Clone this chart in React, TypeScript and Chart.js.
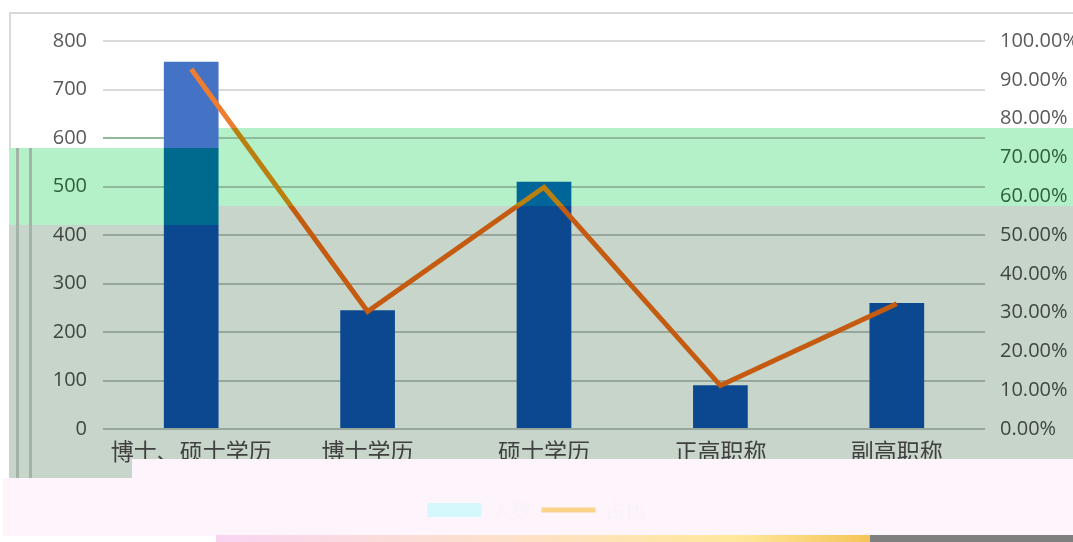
import React, { useEffect, useRef } from 'react';
import { Chart, registerables } from 'chart.js';

Chart.register(...registerables);

// ---- data ----
const categories = ['博士、硕士学历', '博士学历', '硕士学历', '正高职称', '副高职称'];
const counts = [757, 245, 510, 90, 260];
const ratios = [0.928, 0.303, 0.623, 0.112, 0.323];
const seriesNames = ['人数', '占比'];
const leftMax = 800;
const leftStep = 100;
const rightMax = 1;
const rightStep = 0.1;

// ---- style ----
const W = 1073;
const H = 542;
const NUM_FONT = { family: '"Open Sans", "Noto Sans", sans-serif', size: 20 };
const CJK_FONT = { family: '"Noto Sans CJK SC", sans-serif', size: 23 };

function bandGradient(ctx: CanvasRenderingContext2D, top: number, bottom: number, c1: string, c2: string, c3: string) {
  const g = ctx.createLinearGradient(0, 0, 0, H);
  const a = top / H;
  const b = bottom / H;
  g.addColorStop(0, c1);
  g.addColorStop(a, c1);
  g.addColorStop(a, c2);
  g.addColorStop(b, c2);
  g.addColorStop(b, c3);
  g.addColorStop(1, c3);
  return g;
}

const abs = (l: number, t: number, w: number, h: number, bg: string, z = 0): React.CSSProperties => ({
  position: 'absolute', left: l, top: t, width: w, height: h, background: bg, zIndex: z,
});

export default function App() {
  const ref = useRef<HTMLCanvasElement | null>(null);

  useEffect(() => {
    if (!ref.current) return;
    const chart = new Chart(ref.current, {
      type: 'bar',
      data: {
        labels: categories,
        datasets: [
          {
            type: 'line',
            label: seriesNames[1],
            data: ratios,
            yAxisID: 'y1',
            order: 0,
            borderWidth: 5,
            pointRadius: 0,
            tension: 0,
            borderColor: (c: any) => bandGradient(c.chart.ctx, 128, 206, '#ED7D31', '#B9800F', '#C45B10'),
            backgroundColor: '#C45B10',
          } as any,
          {
            type: 'bar',
            label: seriesNames[0],
            data: counts,
            yAxisID: 'y',
            order: 1,
            categoryPercentage: 1,
            barPercentage: 0.31,
            backgroundColor: (c: any) => {
              if (c.dataIndex === undefined || !c.chart.scales?.x) return '#0B488F';
              const px = c.chart.scales.x.getPixelForValue(c.dataIndex);
              return px < 218
                ? bandGradient(c.chart.ctx, 148, 225, '#4472C4', '#006A8E', '#0B488F')
                : bandGradient(c.chart.ctx, 128, 206, '#4472C4', '#00669A', '#0B488F');
            },
          } as any,
        ],
      },
      options: {
        animation: false,
        responsive: false,
        layout: { padding: { top: 41, bottom: 12, left: 0, right: 0 } },
        plugins: {
          tooltip: { enabled: false },
          legend: {
            position: 'bottom',
            labels: {
              usePointStyle: true,
              pointStyleWidth: 54,
              boxWidth: 54,
              boxHeight: 14,
              padding: 10,
              font: { family: '"Noto Sans CJK SC", sans-serif', size: 20 },
              generateLabels: () => [
                {
                  text: seriesNames[0], fillStyle: '#D4F8FC', strokeStyle: '#D4F8FC', lineWidth: 0,
                  pointStyle: 'rect', fontColor: '#FAF1F9', datasetIndex: 1, hidden: false,
                } as any,
                {
                  text: seriesNames[1], fillStyle: '#FBD28A', strokeStyle: '#FBD28A', lineWidth: 5,
                  pointStyle: 'line', fontColor: '#FAF1F9', datasetIndex: 0, hidden: false,
                } as any,
              ],
            },
          },
        },
        scales: {
          x: {
            grid: { display: false, drawTicks: false },
            border: { display: false },
            ticks: { font: CJK_FONT, color: '#404040', padding: 8, maxRotation: 0, autoSkip: false },
            afterFit: (s: any) => { s.height = 61; },
          },
          y: {
            position: 'left',
            min: 0,
            max: leftMax,
            ticks: {
              stepSize: leftStep,
              padding: 16,
              font: NUM_FONT,
              color: (c: any) => (c.tick.value >= 600 ? '#595959' : c.tick.value >= 500 ? '#2F5E3C' : '#3E463F'),
            },
            grid: {
              drawTicks: false,
              lineWidth: 2,
              color: (c: any) => (c.tick.value >= 700 ? '#D9D9D9' : c.tick.value >= 500 ? '#8DBB9B' : '#98A79B'),
            },
            border: { display: false },
            afterFit: (s: any) => { s.width = 103; },
          },
          y1: {
            position: 'right',
            min: 0,
            max: rightMax,
            ticks: {
              stepSize: rightStep,
              padding: 15,
              font: NUM_FONT,
              color: (c: any) => (c.tick.value >= 0.75 ? '#595959' : c.tick.value >= 0.55 ? '#2F5E3C' : '#3E463F'),
              callback: (v: any) => (Number(v) * 100).toFixed(2) + '%',
            },
            grid: { display: false, drawTicks: false },
            border: { display: false },
            afterFit: (s: any) => { s.width = 88; },
          },
        },
      } as any,
    });
    return () => chart.destroy();
  }, []);

  return (
    <div style={{ position: 'fixed', left: 0, top: 0, width: W, height: H, background: '#FFFFFF', overflow: 'hidden' }}>
      {/* frame */}
      <div style={abs(9, 12, W - 9, 2, '#D9D9D9')} />
      <div style={abs(9, 12, 2, 136, '#D9D9D9')} />
      {/* green band */}
      <div style={abs(9, 148, 209, 77, '#B4F0C8')} />
      <div style={abs(218, 128, W - 218, 78, '#B4F0C8')} />
      {/* gray-green region */}
      <div style={abs(9, 225, 209, 253, '#C8D5CA')} />
      <div style={abs(218, 206, W - 218, 254, '#C8D5CA')} />
      {/* double vertical lines */}
      <div style={abs(16, 148, 3, 330, '#A3B4A6')} />
      <div style={abs(29, 148, 3, 330, '#A3B4A6')} />
      {/* pink lower area */}
      <div style={abs(3, 478, W - 3, 58, '#FDF4FC')} />
      <div style={abs(216, 535, 654, 7, 'linear-gradient(90deg, #F9D4F2 0%, #FDE0C8 45%, #FFE79A 80%, #F5C458 100%)')} />
      <div style={abs(870, 535, W - 870, 7, '#7F7F7F')} />
      <canvas ref={ref} width={W} height={H} style={{ position: 'absolute', left: 0, top: 0, width: W, height: H, zIndex: 1 }} />
      {/* overlay strip cutting axis labels */}
      <div style={abs(132, 459, W - 132, 30, '#FDF4FC', 2)} />
    </div>
  );
}
